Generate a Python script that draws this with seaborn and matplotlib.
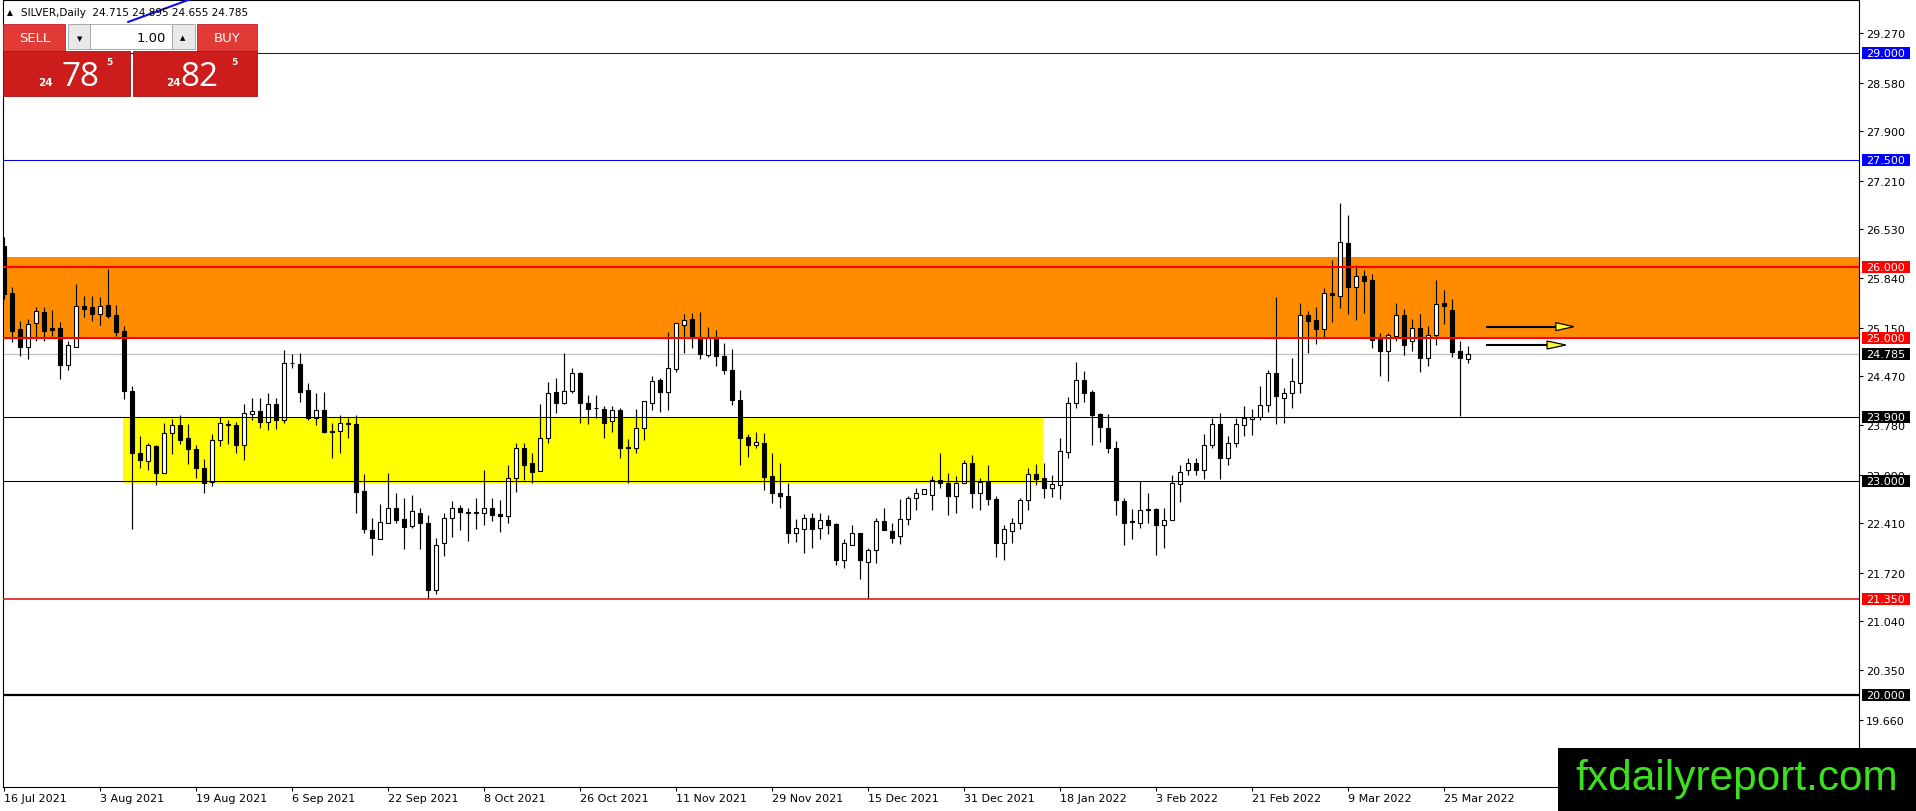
import numpy as np
import pandas as pd
import matplotlib
matplotlib.use("Agg")
import matplotlib.pyplot as plt
import matplotlib.transforms as mtransforms
from matplotlib.patches import Rectangle, Polygon
from matplotlib.lines import Line2D
import seaborn as sns

# daily candles, SILVER (bid), 16 Jul 2021 -> 30 Mar 2022
dates = pd.bdate_range("2021-07-16", periods=184)

opens = [26.30, 25.64, 25.13, 24.88, 25.21, 25.37, 25.15, 25.15, 24.63, 24.88,
         25.46, 25.44, 25.34, 25.47, 25.33, 25.10, 24.26, 23.39, 23.28, 23.49,
         23.12, 23.68, 23.79, 23.60, 23.45, 23.19, 22.99, 23.58, 23.79, 23.79,
         23.50, 23.94, 23.98, 23.83, 24.08, 23.85, 24.65, 24.64, 24.28, 23.88,
         23.99, 23.70, 23.70, 23.80, 23.80, 22.86, 22.32, 22.19, 22.42, 22.63,
         22.47, 22.37, 22.56, 22.41, 21.48, 22.13, 22.48, 22.63, 22.56, 22.56,
         22.55, 22.62, 22.54, 22.51, 23.04, 23.46, 23.25, 23.14, 23.61, 24.25,
         24.10, 24.27, 24.52, 24.10, 24.02, 24.01, 23.84, 23.99, 23.47, 23.46,
         23.74, 24.10, 24.42, 24.25, 24.57, 25.19, 25.27, 25.00, 24.77, 25.02,
         24.75, 24.56, 24.14, 23.62, 23.51, 23.54, 23.07, 22.84, 22.79, 22.27,
         22.33, 22.49, 22.34, 22.45, 22.40, 21.90, 22.11, 22.27, 21.87, 22.03,
         22.44, 22.30, 22.23, 22.47, 22.76, 22.82, 22.81, 23.02, 22.97, 22.79,
         22.98, 23.26, 22.84, 22.99, 22.75, 22.13, 22.30, 22.41, 22.73, 23.10,
         23.04, 22.91, 22.95, 23.41, 24.09, 24.42, 24.25, 23.94, 23.75, 23.47,
         22.72, 22.43, 22.41, 22.60, 22.61, 22.38, 22.46, 22.96, 23.15, 23.26,
         23.16, 23.50, 23.80, 23.32, 23.54, 23.79, 23.87, 23.90, 24.06, 24.51,
         24.17, 24.23, 24.38, 25.33, 25.26, 25.13, 25.64, 25.60, 26.34, 25.72,
         25.87, 25.82, 24.99, 24.83, 25.04, 25.33, 24.96, 25.15, 24.72, 25.05,
         25.49, 25.40, 24.82, 24.715]
highs = [26.42, 25.72, 25.25, 25.27, 25.44, 25.44, 25.40, 25.23, 24.97, 25.76,
         25.60, 25.60, 25.58, 25.97, 25.47, 25.18, 24.34, 23.63, 23.54, 23.50,
         23.81, 23.87, 23.93, 23.80, 23.51, 23.31, 23.66, 23.90, 23.86, 23.83,
         24.08, 24.17, 24.16, 24.23, 24.17, 24.84, 24.78, 24.80, 24.37, 24.24,
         24.25, 23.81, 23.92, 23.89, 23.93, 23.10, 22.48, 22.68, 23.12, 22.84,
         22.76, 22.81, 22.63, 22.52, 22.20, 22.55, 22.72, 22.66, 22.63, 22.76,
         23.16, 22.77, 22.73, 23.22, 23.54, 23.54, 23.40, 24.08, 24.39, 24.44,
         24.80, 24.58, 24.53, 24.21, 24.20, 24.05, 24.05, 24.03, 23.59, 24.01,
         24.12, 24.47, 24.44, 25.09, 25.22, 25.34, 25.36, 25.37, 25.16, 25.12,
         24.94, 24.85, 24.28, 23.66, 23.69, 23.68, 23.40, 23.26, 22.98, 22.47,
         22.54, 22.56, 22.56, 22.52, 22.42, 22.19, 22.38, 22.28, 22.07, 22.49,
         22.63, 22.41, 22.75, 22.79, 22.90, 22.89, 23.07, 23.39, 23.11, 23.07,
         23.30, 23.37, 23.05, 23.22, 22.79, 22.39, 22.48, 22.77, 23.18, 23.24,
         23.26, 23.08, 23.61, 24.18, 24.67, 24.55, 24.28, 23.95, 23.94, 23.56,
         22.77, 22.61, 23.00, 22.83, 22.62, 22.62, 23.08, 23.23, 23.32, 23.32,
         23.66, 23.89, 23.95, 23.63, 23.89, 24.05, 24.01, 24.34, 24.56, 25.58,
         24.30, 24.72, 25.50, 25.39, 25.44, 25.71, 26.10, 26.90, 26.73, 26.03,
         25.96, 25.90, 25.07, 25.07, 25.50, 25.41, 25.27, 25.34, 25.18, 25.82,
         25.68, 25.55, 24.97, 24.895]
lows = [25.55, 24.95, 24.76, 24.71, 24.96, 24.96, 25.04, 24.43, 24.56, 24.88,
        25.30, 25.25, 25.19, 25.28, 25.03, 24.15, 22.33, 23.18, 23.16, 22.95,
        23.12, 23.38, 23.52, 23.24, 23.04, 22.83, 22.93, 23.49, 23.52, 23.39,
        23.30, 23.86, 23.74, 23.71, 23.73, 23.82, 24.59, 24.11, 23.86, 23.79,
        23.67, 23.33, 23.39, 23.61, 22.55, 22.27, 21.97, 22.19, 22.42, 22.42,
        22.05, 22.34, 22.05, 21.36, 21.42, 21.95, 22.22, 22.32, 22.16, 22.33,
        22.38, 22.44, 22.29, 22.42, 22.85, 23.02, 22.97, 23.14, 23.53, 23.95,
        24.08, 24.24, 23.82, 23.80, 23.89, 23.61, 23.69, 23.33, 22.97, 23.39,
        23.57, 23.99, 23.97, 24.00, 24.53, 24.80, 24.86, 24.71, 24.74, 24.62,
        24.50, 24.06, 23.22, 23.34, 23.46, 22.87, 22.70, 22.63, 22.13, 22.15,
        21.99, 22.07, 22.19, 22.26, 21.83, 21.78, 22.10, 21.63, 21.36, 21.86,
        22.31, 22.13, 22.12, 22.39, 22.60, 22.82, 22.60, 22.90, 22.53, 22.55,
        22.97, 22.62, 22.59, 22.67, 21.94, 21.89, 22.14, 22.33, 22.60, 22.95,
        22.76, 22.78, 22.75, 23.32, 24.03, 24.11, 23.51, 23.55, 23.39, 22.53,
        22.10, 22.19, 22.35, 22.41, 21.96, 22.06, 22.45, 22.71, 23.08, 23.08,
        23.03, 23.47, 23.03, 23.23, 23.48, 23.63, 23.65, 23.86, 23.97, 23.80,
        23.82, 24.03, 24.23, 24.80, 24.92, 25.02, 25.23, 25.43, 25.34, 25.26,
        25.36, 24.87, 24.48, 24.41, 24.97, 24.77, 24.83, 24.53, 24.62, 24.91,
        25.20, 24.74, 23.91, 24.655]
closes = [25.62, 25.11, 24.88, 25.20, 25.38, 25.11, 25.12, 24.63, 24.91, 25.45,
          25.41, 25.34, 25.46, 25.32, 25.09, 24.27, 23.40, 23.29, 23.51, 23.11,
          23.68, 23.78, 23.58, 23.45, 23.19, 22.97, 23.58, 23.81, 23.79, 23.50,
          23.96, 23.98, 23.83, 24.08, 23.85, 24.65, 24.65, 24.25, 23.88, 23.99,
          23.69, 23.69, 23.81, 23.80, 22.85, 22.33, 22.20, 22.43, 22.63, 22.45,
          22.36, 22.58, 22.41, 21.48, 22.11, 22.48, 22.63, 22.57, 22.56, 22.56,
          22.62, 22.52, 22.51, 23.04, 23.46, 23.23, 23.13, 23.61, 24.24, 24.10,
          24.26, 24.52, 24.10, 24.01, 24.02, 23.82, 24.00, 23.47, 23.47, 23.74,
          24.12, 24.40, 24.25, 24.59, 25.22, 25.26, 25.02, 24.78, 25.02, 24.75,
          24.56, 24.13, 23.61, 23.51, 23.55, 23.06, 22.84, 22.79, 22.27, 22.34,
          22.49, 22.33, 22.45, 22.38, 21.90, 22.14, 22.28, 21.89, 22.03, 22.44,
          22.31, 22.20, 22.47, 22.76, 22.83, 22.89, 23.01, 22.97, 22.79, 22.98,
          23.26, 22.84, 22.99, 22.75, 22.14, 22.33, 22.41, 22.74, 23.10, 23.03,
          22.90, 22.96, 23.42, 24.10, 24.42, 24.24, 23.93, 23.76, 23.47, 22.73,
          22.42, 22.43, 22.59, 22.60, 22.38, 22.46, 22.97, 23.13, 23.26, 23.16,
          23.50, 23.80, 23.32, 23.54, 23.80, 23.88, 23.90, 24.06, 24.52, 24.19,
          24.23, 24.40, 25.33, 25.25, 25.13, 25.64, 25.61, 26.35, 25.72, 25.87,
          25.81, 24.98, 24.83, 25.05, 25.33, 24.91, 25.15, 24.73, 25.05, 25.48,
          25.46, 24.81, 24.72, 24.785]

# right-hand price scale
price_ticks = [29.27, 28.58, 27.90, 27.21, 26.53, 25.84, 25.15, 24.47, 23.78,
               23.09, 22.41, 21.72, 21.04, 20.35, 19.66]
level_prices = [29.0, 27.5, 26.0, 25.0, 24.785, 23.9, 23.0, 21.35, 20.0]
level_colors = ["#0000ff", "#0000ff", "#ff0000", "#ff0000", "#000000",
                "#000000", "#000000", "#e01b1b", "#000000"]
level_widths = [0.75, 0.75, 1.5, 1.5, 0.75, 0.75, 0.75, 1.2, 1.6]

W, H = 1916, 812
sns.set_theme(style="white")
plt.rcParams["font.family"] = ["DejaVu Sans"]

fig = plt.figure(figsize=(W / 100, H / 100), dpi=100, facecolor="white")
ax = fig.add_axes([2.7 / W, (H - 788) / H, (1859 - 2.7) / W, 787 / H])
ax.set_facecolor("white")

df = pd.DataFrame({"date": dates, "open": opens, "high": highs,
                   "low": lows, "close": closes})
df["bar"] = np.arange(len(df))
df["up"] = df["close"] >= df["open"]

# zones
ax.axhspan(25.0, 26.135, color="#ff8c00", lw=0, zorder=0)
ax.add_patch(Rectangle((14.85, 22.97), 129.9 - 14.85, 23.89 - 22.97,
                       facecolor="#ffff00", edgecolor="none", zorder=0))

# bid line
ax.axhline(24.785, color="#c0c0c0", lw=0.9, zorder=1)

# candles
ax.vlines(df["bar"], df["low"], df["high"], color="black", lw=0.85, zorder=2)
body_low = df[["open", "close"]].min(axis=1)
body_h = (df["close"] - df["open"]).abs().clip(lower=0.01)
ax.bar(df["bar"], body_h, bottom=body_low, width=0.5,
       color=np.where(df["up"], "white", "black"),
       edgecolor="black", linewidth=0.8, zorder=3)

# horizontal levels
for p, c, w in zip(level_prices, level_colors, level_widths):
    if p == 24.785:
        continue
    ax.axhline(p, color=c, lw=w, zorder=4)

# arrows
for y, x0, xb, xt in [(25.164, 185.25, 194.0, 196.25), (24.907, 185.25, 192.9, 195.25)]:
    ax.plot([x0, xb], [y, y], color="black", lw=1.5, zorder=5, solid_capstyle="butt")
    ax.add_patch(Polygon([[xb, y + 0.056], [xt, y], [xb, y - 0.056]], closed=True,
                         facecolor="#ffff33", edgecolor="black", lw=0.9, zorder=6))

ax.set_xlim(-0.16, 231.9)
ax.set_ylim(18.717, 29.739)

# axes / ticks
for s in ax.spines.values():
    s.set_color("black")
    s.set_linewidth(0.8)
ax.yaxis.tick_right()
ax.set_yticks(price_ticks)
ax.set_yticklabels([f"{v:.3f}" for v in price_ticks])
ax.tick_params(axis="y", which="major", right=True, left=False, direction="out",
               length=3, width=0.8, pad=2.2, labelsize=8, colors="black")
xt = list(range(0, 184, 12))
ax.set_xticks(xt)
ax.set_xticklabels([f"{dates[i].day} {dates[i].strftime('%b %Y')}" for i in xt],
                   ha="left")
ax.tick_params(axis="x", which="major", bottom=True, direction="out",
               length=3, width=0.8, pad=1.5, labelsize=8, colors="black")
ax.grid(False)

# boxed level labels on the price scale
blend = mtransforms.blended_transform_factory(ax.transAxes, ax.transData)
aw = 1859 - 2.7
box_h = 12 / 71.4
box_colors = ["#0000ff", "#0000ff", "#ff0000", "#ff0000", "#000000",
              "#000000", "#000000", "#ff0000", "#000000"]
for p, c in zip(level_prices, box_colors):
    ax.add_patch(Rectangle(((1862 - 2.7) / aw, p - box_h / 2), 48 / aw, box_h,
                           transform=blend, facecolor=c, edgecolor="none",
                           clip_on=False, zorder=8))
    ax.text((1866.5 - 2.7) / aw, p, f"{p:.3f}", transform=blend, ha="left",
            va="center", fontsize=8, color="white", clip_on=False, zorder=9)


def px_rect(x0, y0, x1, y1, **kw):
    fig.add_artist(Rectangle((x0 / W, 1 - y1 / H), (x1 - x0) / W, (y1 - y0) / H,
                             transform=fig.transFigure, **kw))


def px_text(x, y, s, **kw):
    fig.text(x / W, 1 - y / H, s, **kw)


# header
fig.add_artist(Line2D([128 / W, 191 / W], [1 - 23 / H, 1 - 0 / H],
                      color="#1010ee", lw=1.5, transform=fig.transFigure, zorder=2))
px_text(7, 13, "▲", fontsize=5.5, va="center", color="black")
px_text(21, 13, "SILVER,Daily  24.715 24.895 24.655 24.785", fontsize=7.5,
        va="center", color="black", zorder=3)

# trade panel
px_rect(3, 25, 65, 52, facecolor="#e13a37", edgecolor="#c02020", lw=0.6)
px_rect(197, 25, 257, 52, facecolor="#e13a37", edgecolor="#c02020", lw=0.6)
px_rect(68, 25, 90, 50, facecolor="#e9e9e9", edgecolor="#a0a0a0", lw=0.6)
px_rect(90, 25, 172, 50, facecolor="white", edgecolor="#a0a0a0", lw=0.6)
px_rect(172, 25, 195, 50, facecolor="#e9e9e9", edgecolor="#a0a0a0", lw=0.6)
px_rect(3, 52, 130, 97, facecolor="#cc1d1c", edgecolor="#a81010", lw=0.6)
px_rect(133, 52, 257, 97, facecolor="#cc1d1c", edgecolor="#a81010", lw=0.6)
px_text(35, 38.5, "SELL", fontsize=9.5, ha="center", va="center", color="white")
px_text(227, 38.5, "BUY", fontsize=9.5, ha="center", va="center", color="white")
px_text(166, 38, "1.00", fontsize=9.5, ha="right", va="center", color="black")
px_text(80, 39, "▼", fontsize=5, ha="center", va="center", color="black")
px_text(183, 38, "▲", fontsize=5, ha="center", va="center", color="black")
px_text(38, 86, "24", fontsize=7.5, fontweight="bold", va="baseline", color="white")
px_text(61, 86, "78", fontsize=24, family="Open Sans", va="baseline", color="white")
px_text(106, 65, "5", fontsize=6.5, fontweight="bold", va="baseline", color="white")
px_text(166, 86, "24", fontsize=7.5, fontweight="bold", va="baseline", color="white")
px_text(180, 86, "82", fontsize=24, family="Open Sans", va="baseline", color="white")
px_text(231, 65, "5", fontsize=6.5, fontweight="bold", va="baseline", color="white")

# watermark
px_rect(1558, 749, 1916, 812, facecolor="black", edgecolor="none", zorder=10)
px_text(1737, 790, "fxdailyreport.com", fontsize=30.5, family="Liberation Sans",
        ha="center", va="baseline", color="#3be11f", zorder=11)

fig.savefig("out.png", dpi=100, facecolor="white")
